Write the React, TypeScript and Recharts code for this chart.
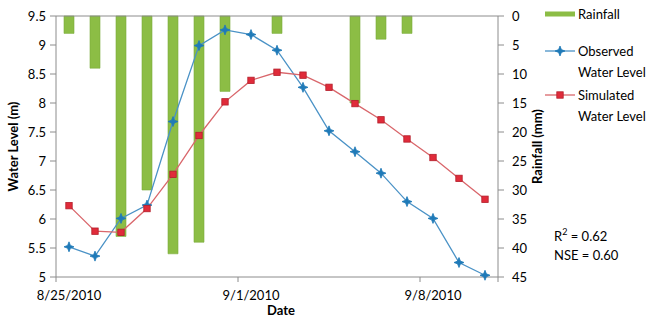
import React from 'react';
import { ComposedChart, Bar, Line, XAxis, YAxis, Legend } from 'recharts';

const dates = [
  '8/25/2010', '8/26/2010', '8/27/2010', '8/28/2010', '8/29/2010', '8/30/2010', '8/31/2010',
  '9/1/2010', '9/2/2010', '9/3/2010', '9/4/2010', '9/5/2010', '9/6/2010', '9/7/2010',
  '9/8/2010', '9/9/2010', '9/10/2010',
];
const observed = [5.52, 5.36, 6.01, 6.24, 7.68, 8.99, 9.26, 9.18, 8.91, 8.27, 7.52, 7.16, 6.79, 6.3, 6.01, 5.25, 5.03];
const simulated = [6.23, 5.79, 5.77, 6.18, 6.77, 7.44, 8.02, 8.39, 8.53, 8.48, 8.27, 7.99, 7.71, 7.38, 7.06, 6.7, 6.34];
const rainfall = [3, 9, 38, 30, 41, 39, 13, 0, 3, 0, 0, 15, 4, 3, 0, 0, 0];

const waterTicks = [5, 5.5, 6, 6.5, 7, 7.5, 8, 8.5, 9, 9.5];
const rainTicks = [0, 5, 10, 15, 20, 25, 30, 35, 40, 45];
const dateTickBoundaries = [-0.5, 6.5, 13.5, 16.5];
const topTickBoundaries = [4.5, 9.5, 14.5];
const statsLines = ['R', ' = 0.62', 'NSE = 0.60'];

const data = dates.map((d, i) => ({
  idx: i,
  date: d,
  observed: observed[i],
  simulated: simulated[i],
  rainfall: rainfall[i],
}));

const FONT = 'Lato, "Open Sans", sans-serif';
const AXIS = '#8c8c8c';
const GREEN = '#8cbd45';
const BLUE_LINE = '#4a92c6';
const BLUE_MARK = '#1f7ab8';
const RED_LINE = '#d9666b';
const RED_MARK = '#e02b3a';
const HALF_BAND = 13;

const StarDot = (props: any) => {
  const { cx, cy, index } = props;
  if (cx == null || cy == null) return <g key={`o-${index}`} />;
  const r = 5;
  const s = 1.4;
  const pts = [
    [cx, cy - r], [cx + s, cy - s], [cx + r, cy], [cx + s, cy + s],
    [cx, cy + r], [cx - s, cy + s], [cx - r, cy], [cx - s, cy - s],
  ].map((p) => p.join(',')).join(' ');
  return <polygon key={`o-${index}`} points={pts} fill={BLUE_MARK} stroke={BLUE_MARK} strokeWidth={0.8} />;
};

const SquareDot = (props: any) => {
  const { cx, cy, index } = props;
  if (cx == null || cy == null) return <g key={`s-${index}`} />;
  return <rect key={`s-${index}`} x={cx - 3.2} y={cy - 3.2} width={6.4} height={6.4} fill={RED_MARK} stroke="#b31f2b" strokeWidth={0.8} />;
};

const DateTick = (props: any) => {
  const { x, y, payload } = props;
  const i = payload.value + 0.5;
  const label = dates[i] ?? '';
  return (
    <text x={x + HALF_BAND} y={y} dy="0.71em" textAnchor="middle" fill="#000" fontSize={13} fontFamily={FONT}>
      {label}
    </text>
  );
};

const LeftTitle = (p: any) => {
  const vb = p.viewBox || { x: 0, y: 16, width: 56, height: 261 };
  const cx = vb.x + 13;
  const cy = vb.y + vb.height / 2;
  return (
    <text x={cx} y={cy} transform={`rotate(-90, ${cx}, ${cy})`} textAnchor="middle" dominantBaseline="central"
      fontSize={13} fontWeight="bold" fontFamily={FONT} fill="#000">
      Water Level (m)
    </text>
  );
};

const RightTitle = (p: any) => {
  const vb = p.viewBox || { x: 498, y: 16, width: 50, height: 261 };
  const cx = vb.x + 39;
  const cy = vb.y + vb.height / 2;
  return (
    <text x={cx} y={cy} transform={`rotate(-90, ${cx}, ${cy})`} textAnchor="middle" dominantBaseline="central"
      fontSize={13} fontWeight="bold" fontFamily={FONT} fill="#000">
      Rainfall  (mm)
    </text>
  );
};

const BottomTitle = (p: any) => {
  const vb = p.viewBox || { x: 56, y: 277, width: 442, height: 30 };
  return (
    <text x={vb.x + vb.width / 2 + 4} y={vb.y + 33} textAnchor="middle" dominantBaseline="central"
      fontSize={13} fontWeight="bold" fontFamily={FONT} fill="#000">
      Date
    </text>
  );
};

const LegendContent = () => (
  <svg width={105} height={270} style={{ display: 'block', overflow: 'visible' }}>
    <rect x={2} y={11.5} width={30} height={5} fill={GREEN} />
    <text x={35} y={14} dominantBaseline="central" fontSize={13} fontFamily={FONT} fill="#000">Rainfall</text>

    <line x1={2} y1={51} x2={32} y2={51} stroke={BLUE_LINE} strokeWidth={1.3} />
    <StarDot cx={17} cy={51} index="lg" />
    <text x={35} y={51} dominantBaseline="central" fontSize={13} fontFamily={FONT} fill="#000">Observed</text>
    <text x={35} y={72} dominantBaseline="central" fontSize={13} fontFamily={FONT} fill="#000">Water Level</text>

    <line x1={2} y1={95} x2={32} y2={95} stroke={RED_LINE} strokeWidth={1.3} />
    <SquareDot cx={17} cy={95} index="lg" />
    <text x={35} y={95} dominantBaseline="central" fontSize={13} fontFamily={FONT} fill="#000">Simulated</text>
    <text x={35} y={116} dominantBaseline="central" fontSize={13} fontFamily={FONT} fill="#000">Water Level</text>

    <text x={11} y={236} dominantBaseline="central" fontSize={13} fontFamily={FONT} fill="#000">
      {statsLines[0]}
      <tspan fontSize={9} dy={-5}>2</tspan>
      <tspan dy={5}>{statsLines[1]}</tspan>
    </text>
    <text x={11} y={255} dominantBaseline="central" fontSize={13} fontFamily={FONT} fill="#000">{statsLines[2]}</text>
  </svg>
);

export default function App() {
  const tickStyle = { fill: '#000', fontSize: 13, fontFamily: FONT };
  return (
    <div style={{ position: 'absolute', left: 0, top: 0, width: 648, height: 320, background: '#fff' }}>
      <ComposedChart width={648} height={320} data={data} margin={{ top: 10, right: 100, bottom: 13, left: 0 }}>
        <XAxis
          xAxisId="bottom"
          dataKey="idx"
          type="number"
          domain={[-0.5, 16.5]}
          ticks={dateTickBoundaries}
          tick={<DateTick />}
          tickSize={5}
          tickMargin={9}
          height={30}
          stroke={AXIS}
          tickLine={{ stroke: AXIS }}
          label={{ content: BottomTitle }}
        />
        <XAxis
          xAxisId="top"
          dataKey="idx"
          type="number"
          orientation="top"
          domain={[-0.5, 16.5]}
          ticks={topTickBoundaries}
          tick={false}
          tickSize={4}
          height={6}
          stroke={AXIS}
          tickLine={{ stroke: AXIS }}
        />
        <YAxis
          yAxisId="left"
          domain={[5, 9.5]}
          ticks={waterTicks}
          width={56}
          tickSize={6}
          tickMargin={4}
          tick={tickStyle}
          stroke={AXIS}
          tickLine={{ stroke: AXIS }}
          label={{ content: LeftTitle }}
        />
        <YAxis
          yAxisId="right"
          orientation="right"
          domain={[0, 45]}
          reversed
          ticks={rainTicks}
          width={50}
          tickSize={6}
          tickMargin={8}
          tick={{ ...tickStyle, textAnchor: 'start' }}
          stroke={AXIS}
          tickLine={{ stroke: AXIS }}
          label={{ content: RightTitle }}
        />
        <Bar
          xAxisId="top"
          yAxisId="right"
          dataKey="rainfall"
          name="Rainfall"
          barSize={10}
          fill={GREEN}
          stroke="#7aab3a"
          strokeWidth={0.6}
          isAnimationActive={false}
        />
        <Line
          xAxisId="bottom"
          yAxisId="left"
          dataKey="observed"
          name="Observed Water Level"
          stroke={BLUE_LINE}
          strokeWidth={1.3}
          dot={StarDot}
          activeDot={false}
          isAnimationActive={false}
        />
        <Line
          xAxisId="bottom"
          yAxisId="left"
          dataKey="simulated"
          name="Simulated Water Level"
          stroke={RED_LINE}
          strokeWidth={1.3}
          dot={SquareDot}
          activeDot={false}
          isAnimationActive={false}
        />
        <Legend
          layout="vertical"
          verticalAlign="middle"
          align="center"
          content={LegendContent}
          wrapperStyle={{ left: 543, top: 0, width: 105, height: 270 }}
        />
      </ComposedChart>
    </div>
  );
}
